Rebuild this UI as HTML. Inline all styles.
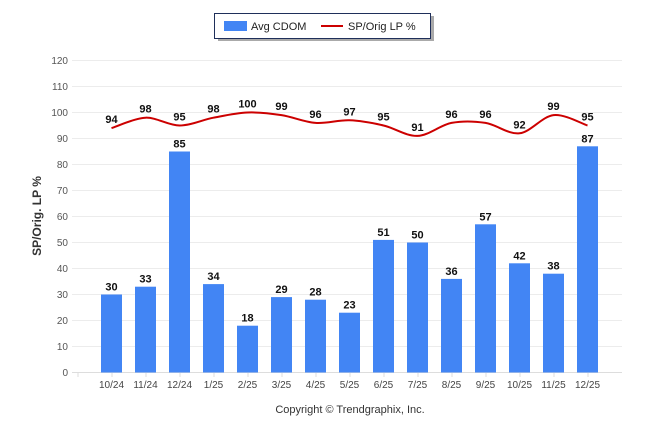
<!DOCTYPE html>
<html><head><meta charset="utf-8"><style>
body{margin:0;background:#fff;font-family:"Liberation Sans",sans-serif}
</style></head><body>
<svg width="646" height="434" viewBox="0 0 646 434" xmlns="http://www.w3.org/2000/svg">
<g id="grid"></g>
<g id="yt" font-size="10" fill="#555" text-anchor="end"></g>
<g id="bars"></g>
<g id="xt" font-size="10" fill="#444" text-anchor="middle"></g>
<path id="line" fill="none" stroke="#cc0000" stroke-width="2"/>
<g id="labels" font-size="11" font-weight="bold" fill="#111" text-anchor="middle"></g>
<text transform="translate(41,216) rotate(-90)" text-anchor="middle" font-size="12" font-weight="bold" fill="#333">SP/Orig. LP %</text>
<text x="350" y="413" text-anchor="middle" font-size="11" fill="#333">Copyright © Trendgraphix, Inc.</text>
<g>
<rect x="216" y="14" width="216" height="25" fill="#aaa" transform="translate(2,2)"/>
<rect x="214.5" y="13.5" width="216" height="25" fill="#fff" stroke="#1f2f5a"/>
<rect x="224" y="21" width="23" height="10" fill="#4285f4"/>
<text x="251" y="30" font-size="11" fill="#222">Avg CDOM</text>
<line x1="321" y1="26" x2="343" y2="26" stroke="#cc0000" stroke-width="2"/>
<text x="348" y="30" font-size="11" fill="#222">SP/Orig LP %</text>
</g>
</svg>
<script>
const categories=["10/24","11/24","12/24","1/25","2/25","3/25","4/25","5/25","6/25","7/25","8/25","9/25","10/25","11/25","12/25"];
const cdom=[30,33,85,34,18,29,28,23,51,50,36,57,42,38,87];
const splp=[94,98,95,98,100,99,96,97,95,91,96,96,92,99,95];
const yTicks=[0,10,20,30,40,50,60,70,80,90,100,110,120];
const NS="http://www.w3.org/2000/svg";
const X=i=>111.5+34*i, Y=v=>372.5-2.6*v;
function mk(t,a,p,txt){const e=document.createElementNS(NS,t);for(const k in a)e.setAttribute(k,a[k]);if(txt!==undefined)e.textContent=txt;document.getElementById(p).appendChild(e);return e;}
yTicks.forEach(v=>{
 const l=mk('line',{x1:72,x2:622,y1:Y(v),y2:Y(v),stroke:v===0?'#ddd':'#ececec'},'grid');
 
 
 const t=mk('text',{x:68,y:Y(v)+3.5},'yt',v);
 
 
});
for(let i=-1;i<categories.length;i++){mk('line',{x1:X(i)+0.5,x2:X(i)+0.5,y1:372.5,y2:377,stroke:'#ddd'},'grid');}
categories.forEach((c,i)=>{
 const b=mk('rect',{x:X(i)-10.5,y:Y(cdom[i]),width:21,height:Y(0)-Y(cdom[i]),fill:'#4285f4'},'bars');
 
 
 const t=mk('text',{x:X(i),y:388},'xt',c);
 
 
 const l=mk('text',{x:X(i),y:Y(cdom[i])-4},'labels',cdom[i]);
 
 
 const l2=mk('text',{x:X(i),y:Y(splp[i])-5},'labels',splp[i]);
 
 
});
const pts=splp.map((v,i)=>[X(i),Y(v)]);
let d='M'+pts[0][0]+','+pts[0][1];
for(let i=0;i<pts.length-1;i++){
 const p0=pts[i-1]||pts[i],p1=pts[i],p2=pts[i+1],p3=pts[i+2]||p2;
 const c1=[p1[0]+(p2[0]-p0[0])/6,p1[1]+(p2[1]-p0[1])/6];
 const c2=[p2[0]-(p3[0]-p1[0])/6,p2[1]-(p3[1]-p1[1])/6];
 d+=` C${c1[0]},${c1[1]} ${c2[0]},${c2[1]} ${p2[0]},${p2[1]}`;
}
document.getElementById('line').setAttribute('d',d);
</script>
</body></html>
